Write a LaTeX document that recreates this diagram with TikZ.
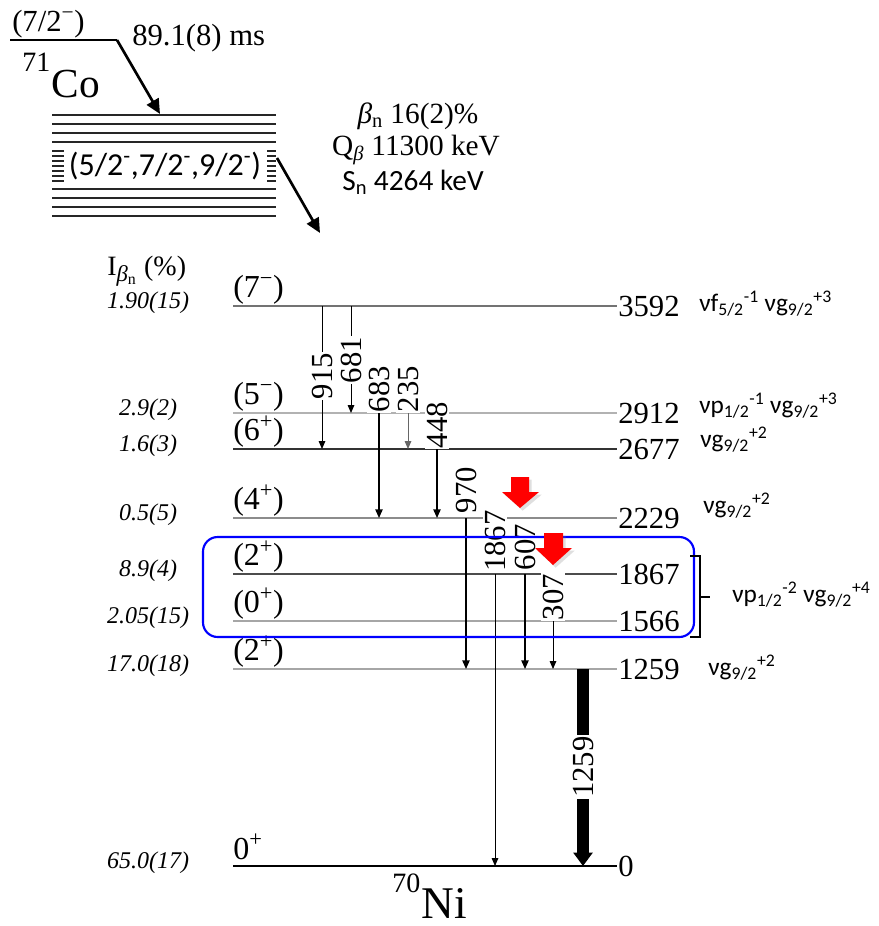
\documentclass[tikz,border=0pt]{standalone}
\usepackage{fontspec}
\setmainfont{Liberation Serif}
\newfontfamily\carl{Carlito}
\usetikzlibrary{arrows.meta,shadows}
\newcommand\fs[1]{\fontsize{#1}{#1}\selectfont}
\newcommand\sbsp[2]{\textsubscript{#1}\textsuperscript{#2}}
\tikzset{
 lvl/.style={line width=0.8pt},
 elab/.style={anchor=west, inner sep=0pt, font=\fs{23}},
 spin/.style={anchor=south west, inner sep=0pt, font=\fs{24}},
 inten/.style={inner sep=0pt, font=\fs{18}\itshape},
 conf/.style={anchor=base west, inner sep=0pt, font=\carl\fs{19}},
 glabel/.style={rotate=90, fill=white, inner sep=1pt, font=\fs{23}},
 gthin/.style={line width=0.7pt, -{Triangle[width=5pt,length=6pt]}},
 gmed/.style={line width=1.1pt, -{Triangle[width=5.5pt,length=6.5pt]}},
 bigarrow/.style={line width=2pt, -{Triangle[width=10pt,length=11pt]}},
 redarrow/.style={fill=red, drop shadow={shadow xshift=2pt, shadow yshift=-2pt, opacity=0.25}},
}
\newcommand\gtrans[6]{%
 \coordinate (#1a) at (#2,#3);
 \coordinate (#1b) at (#2,#4);
 \draw[#6] (#1a) -- (#1b);
 \node[glabel] (#1l) at (#2,#5) {#1};
}
\newcommand\level[4]{%
 \coordinate (L#1l) at (233,#2);
 \coordinate (L#1r) at (617,#2);
 \draw[lvl, #3] (L#1l) -- (L#1r);
 \node[elab] (E#1) at (618,#2) {#1};
 \node[inten] (I#1) at (148,#2-3) {#4};
}
\begin{document}
\begin{tikzpicture}[x=0.75pt,y=-0.75pt]
\useasboundingbox (0,0) rectangle (879,926);

% ---- parent 71Co ----
\coordinate (coL) at (10,40);
\coordinate (coR) at (117,40);
\draw[line width=1.2pt] (coL) -- (coR);
\node[anchor=south west, inner sep=0pt, font=\fs{23}] (cospin) at (12,38) {(7/2\textsuperscript{−})};
\node[anchor=west, inner sep=0pt, font=\fs{23}] (cohalf) at (132,38) {89.1(8) ms};
\node[anchor=base west, inner sep=0pt, font=\fs{31}] (coname) at (22,97) {\raisebox{19pt}{\fs{21}71}\kern1pt Co};

% ---- stack of states ----
\foreach \yy in {115,124,133,142,151,156,161,166,171,176,181,189,198,207,216}
  \draw[line width=1.5pt, black!85] (52,\yy) -- (276,\yy);
\fill[white] (64,145.5) rectangle (267,186);
\node[inner sep=0pt, font=\carl\fs{24}] (stk) at (165,166) {(5/2\textsuperscript{-},7/2\textsuperscript{-},9/2\textsuperscript{-})};
\coordinate (stop) at (160,114);
\draw[bigarrow] (coR) -- (stop);
\coordinate (sout) at (277,158);
\coordinate (sdst) at (320,233);
\draw[bigarrow] (sout) -- (sdst);

% ---- decay info ----
\node[font=\fs{22}, inner sep=0pt] (bn) at (418,116) {\textit{β}\textsubscript{n} 16(2)\%};
\node[font=\fs{22}, inner sep=0pt] (qb) at (416,150) {Q\textsubscript{\textit{β}} 11300 keV};
\node[font=\carl\fs{22}, inner sep=0pt] (sn) at (413,182) {S\textsubscript{n} 4264 keV};

% ---- header Ibn ----
\node[anchor=west, inner sep=0pt, font=\fs{21}] (ibn) at (107,271) {I\textsubscript{\fs{17}\textit{β}\textsubscript{n}} (\%)};

% ---- levels ----
\level{3592}{306}{black!55}{1.90(15)}
\level{2912}{413}{black!30}{2.9(2)}
\level{2677}{449}{black!80}{1.6(3)}
\level{2229}{518}{black!45}{0.5(5)}
\level{1867}{574}{black!70}{8.9(4)}
\level{1566}{621}{black!35}{2.05(15)}
\level{1259}{669}{black!35}{17.0(18)}
\coordinate (L0l) at (233,866);
\coordinate (L0r) at (617,866);
\draw[line width=1.1pt] (L0l) -- (L0r);
\node[elab] (E0) at (618,866) {0};
\node[inten] (I0) at (148,863) {65.0(17)};
\node[anchor=base west, inner sep=0pt, font=\fs{34}] (niname) at (392,918) {\raisebox{19pt}{\fs{21}70}\kern1pt Ni};

% spins
\node[spin] (s3592) at (233,305) {(7\textsuperscript{−})};
\node[spin] (s2912) at (233,412) {(5\textsuperscript{−})};
\node[spin] (s2677) at (233,448) {(6\textsuperscript{+})};
\node[spin] (s2229) at (233,517) {(4\textsuperscript{+})};
\node[spin] (s1867) at (233,573) {(2\textsuperscript{+})};
\node[spin] (s1566) at (233,620) {(0\textsuperscript{+})};
\node[spin] (s1259) at (233,668) {(2\textsuperscript{+})};
\node[anchor=base west, inner sep=0pt, font=\fs{24}] (s0) at (233,859) {0\textsuperscript{+}};

% configurations
\node[conf] (c3592) at (699,311) {νf\sbsp{5/2}{-1} νg\sbsp{9/2}{+3}};
\node[conf] (c2912) at (699,413) {νp\sbsp{1/2}{-1} νg\sbsp{9/2}{+3}};
\node[conf] (c2677) at (700,447) {νg\sbsp{9/2}{+2}};
\node[conf] (c2229) at (703,513) {νg\sbsp{9/2}{+2}};
\node[conf] (c1259) at (708,675) {νg\sbsp{9/2}{+2}};
\node[conf] (cpair) at (732,602) {νp\sbsp{1/2}{-2} νg\sbsp{9/2}{+4}};

% ---- transitions ----
\gtrans{915}{322}{306}{449}{376}{gthin}
\gtrans{681}{351}{306}{413}{360}{gthin}
\gtrans{683}{379}{413}{518}{389}{gmed}
\gtrans{235}{408}{413}{449}{389}{gthin, black!60}
\gtrans{448}{437}{449}{518}{425}{gmed}
\gtrans{970}{466}{518}{669}{490}{gmed}
\gtrans{1867}{495}{574}{866}{541}{gthin}
\gtrans{607}{525}{574}{669}{547}{gmed}
\gtrans{307}{553}{621}{669}{597}{gthin}
\coordinate (1259a) at (583,669);
\coordinate (1259b) at (583,866);
\draw[line width=8.5pt, -{Triangle[width=14pt,length=10pt]}] (1259a) -- (1259b);
\node[glabel] (1259l) at (583,767) {1259};

% ---- blue box and bracket ----
\draw[blue, line width=1.6pt, rounded corners=11pt] (203,537) rectangle (694,637);
\coordinate (brt) at (690,556);
\coordinate (brb) at (690,637);
\coordinate (brm) at (710,597);
\draw[line width=0.9pt] (brt) -- (700,556) -- (700,637) -- (brb);
\draw[line width=0.9pt] (700,597) -- (brm);

% ---- red arrows ----
\fill[redarrow] (511,477) -- (529,477) -- (529,492) -- (539,492) -- (520,508) -- (502,492) -- (511,492) -- cycle;
\fill[redarrow] (544,533) -- (563,533) -- (563,548) -- (572,548) -- (553,565) -- (535,548) -- (544,548) -- cycle;
\end{tikzpicture}
\end{document}
